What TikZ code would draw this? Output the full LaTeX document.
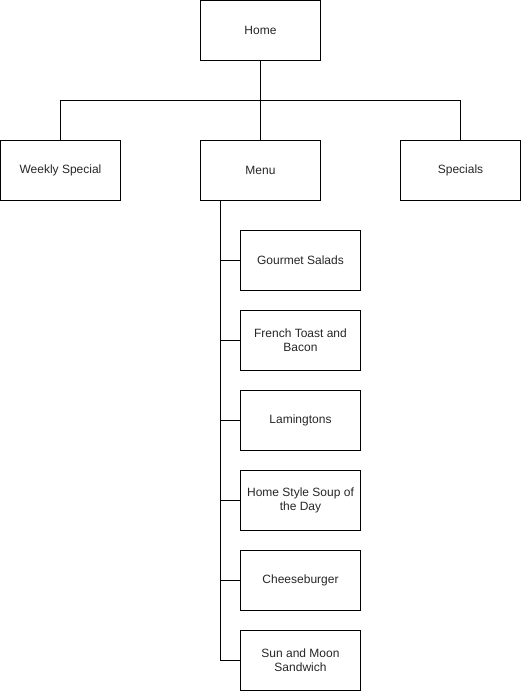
\documentclass[tikz,border=0pt]{standalone}
\usepackage{fontspec}
\setmainfont{Liberation Sans}
\usetikzlibrary{positioning}

\begin{document}
\begin{tikzpicture}[
x=1pt, y=-1pt,
page/.style={
  draw,
  rectangle,
  line width=1pt,
  minimum width=120pt,
  minimum height=60pt,
  inner sep=2pt,
  outer sep=0pt,
  align=center,
  font=\fontsize{12}{14}\selectfont,
  text=black!85
  },
link/.style={
  draw,
  line width=1pt
  }
]
\useasboundingbox (0,0) rectangle (521,691);

\node[page] (home) at (260.5,30.5) {Home};
\node[page] (weekly) at (60.5,170.5) {Weekly Special};
\node[page] (menu) at (260.5,170.5) {Menu};
\node[page] (specials) at (460.5,170.5) {Specials};

% sub pages of the menu
\node[page] (item1) at (300.5,260.5) {Gourmet Salads};
\node[page, below=20pt of item1] (item2) {French Toast and\\Bacon};
\node[page, below=20pt of item2] (item3) {Lamingtons};
\node[page, below=20pt of item3] (item4) {Home Style Soup of\\the Day};
\node[page, below=20pt of item4] (item5) {Cheeseburger};
\node[page, below=20pt of item5] (item6) {Sun and Moon\\Sandwich};

\coordinate (bus) at (home.south |- 0,100.5);
\draw[link] (home.south) -- (menu.north);
\draw[link] (weekly.north) |- (bus) -| (specials.north);

\foreach \i in {1,...,6}
  \draw[link] ([xshift=20pt]menu.south west) |- (item\i.west);
\end{tikzpicture}
\end{document}
